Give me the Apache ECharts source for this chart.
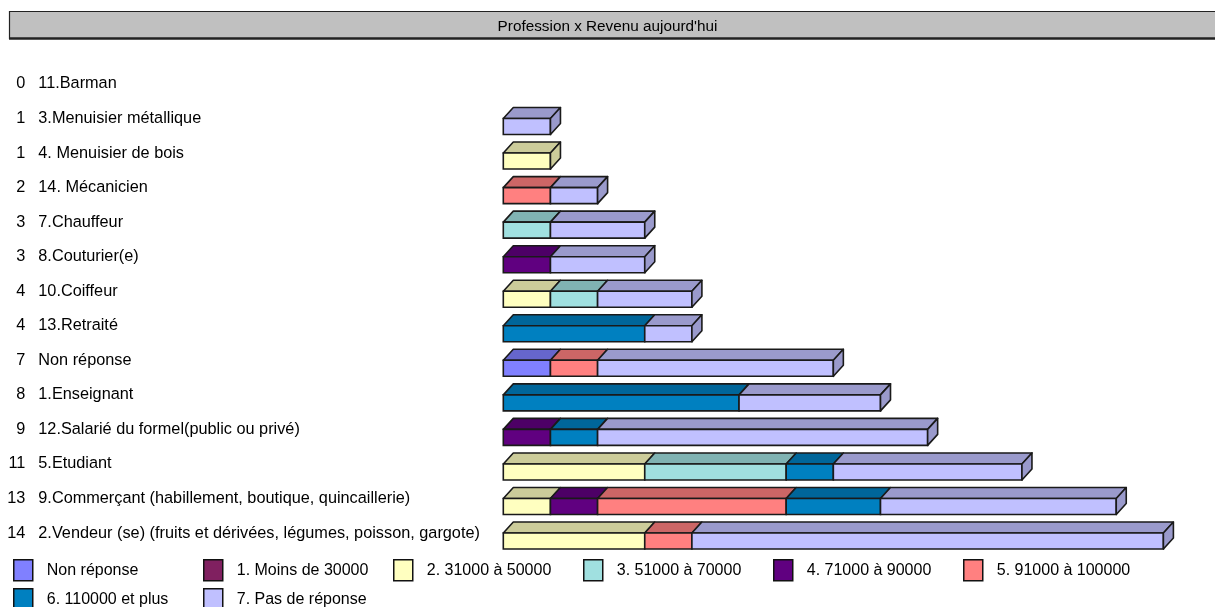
<!DOCTYPE html>
<html>
<head>
<meta charset="utf-8">
<script src="https://cdn.jsdelivr.net/npm/echarts@6/dist/echarts.min.js"></script>
<style>
  html, body { margin: 0; padding: 0; background: #fff; }
  #chart { width: 1215px; height: 607px; }
</style>
</head>
<body>
<div id="chart"></div>
<script>
// Professions, top to bottom
var categories = [
  '11.Barman',
  '3.Menuisier métallique',
  '4. Menuisier de bois',
  '14. Mécanicien',
  '7.Chauffeur',
  '8.Couturier(e)',
  '10.Coiffeur',
  '13.Retraité',
  'Non réponse',
  '1.Enseignant',
  '12.Salarié du formel(public ou privé)',
  '5.Etudiant',
  '9.Commerçant (habillement, boutique, quincaillerie)',
  '2.Vendeur (se) (fruits et dérivées, légumes, poisson, gargote)'
];

// Income classes (stack order, left to right)
var incomeNames = [
  'Non réponse',
  '1. Moins de 30000',
  '2. 31000 à 50000',
  '3. 51000 à 70000',
  '4. 71000 à 90000',
  '5. 91000 à 100000',
  '6. 110000 et plus',
  '7. Pas de réponse'
];
var incomeColors = ['#8080FF', '#802060', '#FFFFC0', '#A0E0E0', '#600080', '#FF8080', '#0080C0', '#C0C0FF'];

// Counts per profession for each income class
var nonReponse  = [0, 0, 0, 0, 0, 0, 0, 0, 1, 0, 0, 0, 0, 0];
var moins30000  = [0, 0, 0, 0, 0, 0, 0, 0, 0, 0, 0, 0, 0, 0];
var r31000      = [0, 0, 1, 0, 0, 0, 1, 0, 0, 0, 0, 3, 1, 3];
var r51000      = [0, 0, 0, 0, 1, 0, 1, 0, 0, 0, 0, 3, 0, 0];
var r71000      = [0, 0, 0, 0, 0, 1, 0, 0, 0, 0, 1, 0, 1, 0];
var r91000      = [0, 0, 0, 1, 0, 0, 0, 0, 1, 0, 0, 0, 4, 1];
var r110000     = [0, 0, 0, 0, 0, 0, 0, 3, 0, 5, 1, 1, 2, 0];
var pasReponse  = [0, 1, 0, 1, 2, 2, 2, 1, 5, 3, 7, 4, 5, 10];

var seriesValues = [nonReponse, moins30000, r31000, r51000, r71000, r91000, r110000, pasReponse];

// Row totals shown in front of each profession
var totals = categories.map(function (_, i) {
  return seriesValues.reduce(function (s, arr) { return s + arr[i]; }, 0);
});

// Index of the last non-empty class per row (gets the right end face)
var lastIndex = categories.map(function (_, i) {
  var last = -1;
  seriesValues.forEach(function (arr, k) { if (arr[i] > 0) last = k; });
  return last;
});

// Stacked segments: [start, end, row, isLast]
var running = categories.map(function () { return 0; });
var stacked = seriesValues.map(function (arr, k) {
  return arr.map(function (v, i) {
    var s = running[i];
    running[i] += v;
    return [s, s + v, i, lastIndex[i] === k ? 1 : 0];
  });
});

var DEPTH_X = 10, DEPTH_Y = 11, FRONT_H = 16;
var EDGE = '#1a1a1a', EDGE_W = 1.6;

// Shaded faces: base colour scaled to 80 %
function darken(color, f) {
  var c = echarts.color.parse(color);
  return 'rgb(' + Math.round(c[0] * f) + ',' + Math.round(c[1] * f) + ',' + Math.round(c[2] * f) + ')';
}

function renderBox(params, api) {
  var s = api.value(0), e = api.value(1), row = api.value(2), isLast = api.value(3);
  if (e <= s) return null;
  var p0 = api.coord([s, row]);
  var p1 = api.coord([e, row]);
  var x0 = p0[0], x1 = p1[0];
  var yT = p0[1], yB = yT + FRONT_H;
  var color = api.visual('color');
  var shade = darken(color, 0.8);
  var children = [
    {
      type: 'polygon',
      shape: { points: [[x0, yT], [x1, yT], [x1 + DEPTH_X, yT - DEPTH_Y], [x0 + DEPTH_X, yT - DEPTH_Y]] },
      style: { fill: shade, stroke: EDGE, lineWidth: EDGE_W, lineJoin: 'round' }
    },
    {
      type: 'rect',
      shape: { x: x0, y: yT, width: x1 - x0, height: FRONT_H },
      style: { fill: color, stroke: EDGE, lineWidth: EDGE_W }
    }
  ];
  if (isLast) {
    children.push({
      type: 'polygon',
      shape: { points: [[x1, yT], [x1 + DEPTH_X, yT - DEPTH_Y], [x1 + DEPTH_X, yB - DEPTH_Y], [x1, yB]] },
      style: { fill: shade, stroke: EDGE, lineWidth: EDGE_W, lineJoin: 'round' }
    });
  }
  return { type: 'group', children: children };
}

var FONT = "'Liberation Sans', Arial, sans-serif";

var series = incomeNames.map(function (name, k) {
  return {
    type: 'custom',
    name: name,
    renderItem: renderBox,
    encode: { x: [0, 1], y: 2 },
    itemStyle: { color: incomeColors[k] },
    data: stacked[k],
    clip: false,
    silent: true
  };
});

// Legend laid out on a fixed 190px pitch, six entries per row
var LEGEND_COLS = 6, LEGEND_PITCH = 190, LEGEND_ROW_H = 29;
var legends = incomeNames.map(function (name, k) {
  return {
    orient: 'horizontal',
    left: 13 + (k % LEGEND_COLS) * LEGEND_PITCH,
    top: 559 + Math.floor(k / LEGEND_COLS) * LEGEND_ROW_H,
    padding: 0,
    icon: 'rect',
    itemWidth: 19,
    itemHeight: 21,
    selectedMode: false,
    itemStyle: { borderColor: '#111', borderWidth: 1.5 },
    textStyle: { fontFamily: FONT, fontSize: 16, color: '#000', padding: [0, 0, 0, 9] },
    data: [name]
  };
});

var chart = echarts.init(document.getElementById('chart'), null, { renderer: 'canvas' });
chart.setOption({
  backgroundColor: '#fff',
  animation: false,
  title: {
    text: "Profession x Revenu aujourd'hui",
    left: 'center',
    top: 19,
    padding: 0,
    textStyle: { fontFamily: FONT, fontSize: 15.3, fontWeight: 'normal', color: '#000', lineHeight: 15 }
  },
  graphic: [
    {
      type: 'rect',
      z: -1,
      shape: { x: 9.5, y: 11.5, width: 1220, height: 27 },
      style: { fill: '#C0C0C0', stroke: '#222', lineWidth: 1.2 }
    },
    {
      type: 'line',
      z: -1,
      shape: { x1: 9, y1: 38.5, x2: 1215, y2: 38.5 },
      style: { stroke: '#222', lineWidth: 2.5 }
    }
  ],
  legend: legends,
  grid: { left: 503.3, right: 51.6, top: 66.7, bottom: 56.7, containLabel: false },
  xAxis: { type: 'value', min: 0, max: 14, show: false },
  yAxis: [
    {
      type: 'category',
      inverse: true,
      data: categories,
      position: 'left',
      axisLine: { show: false },
      axisTick: { show: false },
      splitLine: { show: false },
      axisLabel: { align: 'left', margin: 465, fontFamily: FONT, fontSize: 16.3, color: '#000' }
    },
    {
      type: 'category',
      inverse: true,
      data: totals.map(String),
      position: 'left',
      axisLine: { show: false },
      axisTick: { show: false },
      splitLine: { show: false },
      axisLabel: { align: 'right', margin: 478, fontFamily: FONT, fontSize: 16.3, color: '#000' }
    }
  ],
  series: series
});
</script>
</body>
</html>
